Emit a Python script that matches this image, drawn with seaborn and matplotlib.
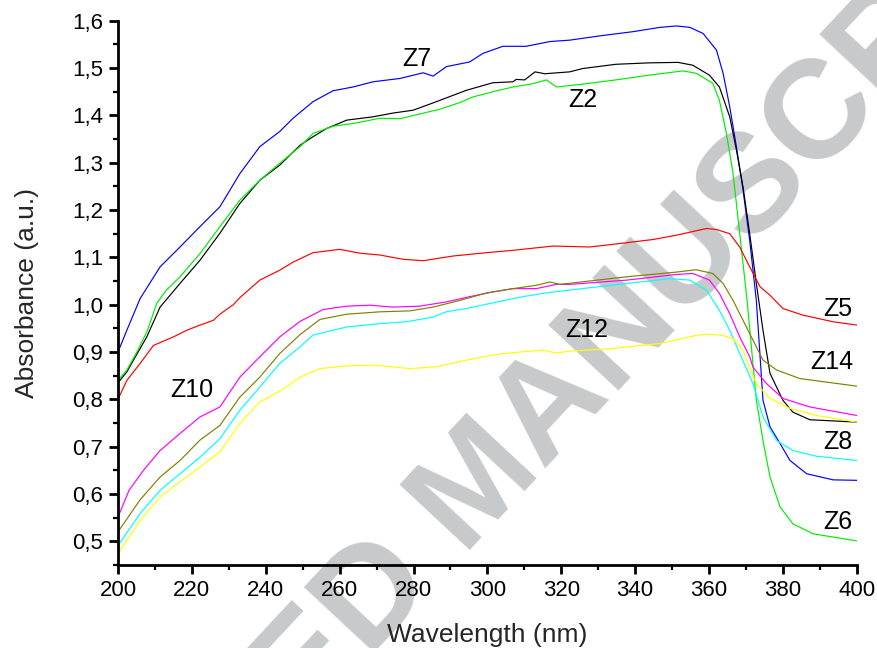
import numpy as np
import pandas as pd
import seaborn as sns
import matplotlib
matplotlib.use("Agg")
import matplotlib.pyplot as plt
from matplotlib.ticker import MultipleLocator, FuncFormatter

# ---- data ----
z7_x = [200, 202.4, 206, 211.4, 216.8, 222.2, 227.6, 233, 238.4, 243.8, 247.4, 252.8, 258.2, 263.6, 269,
        276.3, 282.6, 285.3, 288.9, 295.2, 298.8, 304.2, 310.5, 316.9, 322.3, 330.4, 339.5, 346.7, 351.2,
        354.8, 358.4, 362, 363.8, 365.6, 367.4, 369.2, 371, 372.8, 374.6, 376.5, 379.2, 381.9, 386.4, 393.6, 400]
z7_y = [0.900, 0.946, 1.013, 1.080, 1.122, 1.165, 1.207, 1.277, 1.334, 1.366, 1.394, 1.429, 1.452, 1.460, 1.471,
        1.478, 1.490, 1.483, 1.503, 1.513, 1.531, 1.546, 1.546, 1.556, 1.559, 1.568, 1.577, 1.586, 1.589,
        1.586, 1.573, 1.538, 1.489, 1.418, 1.334, 1.242, 1.136, 1.009, 0.798, 0.742, 0.707, 0.671, 0.643, 0.630, 0.629]

z2_x = [200, 202.4, 204.2, 207.8, 211.4, 216.8, 222.2, 227.6, 233, 238.4, 243.8, 249.3, 252.8, 256.4, 261.9,
        269, 274.5, 279.9, 286.2, 294.3, 301.5, 306.9, 307.8, 310.1, 312.9, 315.5, 322.3, 325.8, 334.8, 343.8,
        351.6, 355.6, 360.1, 362.8, 365.6, 367.4, 369.2, 371, 372.8, 374.6, 376.5, 380, 382.7, 387.3, 400]
z2_y = [0.835, 0.858, 0.883, 0.932, 0.995, 1.045, 1.094, 1.151, 1.214, 1.263, 1.295, 1.337, 1.355, 1.372, 1.390,
        1.397, 1.405, 1.411, 1.429, 1.453, 1.469, 1.471, 1.476, 1.475, 1.492, 1.488, 1.492, 1.499, 1.508, 1.511,
        1.512, 1.506, 1.485, 1.460, 1.397, 1.327, 1.249, 1.150, 1.045, 0.946, 0.855, 0.798, 0.773, 0.757, 0.752]

z6_x = [200, 202.4, 205.4, 208, 210.5, 213, 216.8, 222.2, 227.6, 233, 238.4, 243.8, 249.3, 252.8, 258.2,
        264.5, 270.9, 276.3, 281.7, 287.1, 292.5, 296.1, 301.5, 306.9, 312.3, 316, 318.7, 325.8, 334.8, 343.8,
        352.9, 356.5, 361, 362.8, 364.7, 366.5, 368.3, 370.3, 372.8, 374.6, 376.5, 379.2, 382.7, 388.2, 400]
z6_y = [0.840, 0.862, 0.904, 0.946, 1.003, 1.030, 1.059, 1.108, 1.165, 1.221, 1.263, 1.299, 1.334, 1.362, 1.377,
        1.384, 1.394, 1.393, 1.403, 1.413, 1.427, 1.439, 1.450, 1.460, 1.467, 1.475, 1.460, 1.466, 1.475, 1.485,
        1.494, 1.489, 1.468, 1.432, 1.362, 1.277, 1.150, 1.009, 0.798, 0.713, 0.636, 0.573, 0.537, 0.516, 0.501]

z5_x = [200, 202.4, 206, 209.6, 215, 218.6, 222.2, 225.8, 227.6, 231.2, 233, 238.4, 243.8, 247.4, 252.8,
        260, 265.4, 270.9, 277.2, 282.6, 290.8, 299.8, 307, 317.8, 327.7, 337.7, 345, 351.2, 359.3, 362,
        365.6, 368.3, 371, 373.8, 376.5, 380, 385.4, 393.6, 400]
z5_y = [0.800, 0.840, 0.876, 0.914, 0.932, 0.946, 0.957, 0.967, 0.980, 1.000, 1.015, 1.052, 1.073, 1.090, 1.110,
        1.117, 1.109, 1.105, 1.096, 1.093, 1.103, 1.110, 1.115, 1.124, 1.122, 1.131, 1.138, 1.147, 1.161, 1.159,
        1.150, 1.122, 1.080, 1.038, 1.020, 0.992, 0.978, 0.964, 0.957]

z10_x = [200, 203, 206.9, 211.4, 216.8, 222.2, 227.6, 233, 238.4, 243.8, 249.3, 255.6, 261.9, 268.1, 274.5,
         281.7, 288.9, 295.2, 301.5, 306.9, 313.2, 318.7, 322.3, 337.7, 351.2, 355.6, 360.1, 362.8, 365.6,
         368.3, 371, 371.9, 375.6, 380, 387.3, 400]
z10_y = [0.551, 0.608, 0.650, 0.692, 0.728, 0.763, 0.784, 0.847, 0.890, 0.932, 0.965, 0.990, 0.997, 0.999, 0.995,
         0.997, 1.006, 1.017, 1.027, 1.034, 1.034, 1.043, 1.043, 1.052, 1.064, 1.066, 1.052, 1.024, 0.981,
         0.932, 0.890, 0.868, 0.833, 0.802, 0.784, 0.766]

z14_x = [200, 206, 211.4, 216.8, 222.2, 227.6, 233, 238.4, 243.8, 249.3, 254.7, 261.9, 270.9, 279, 285.3,
         292.5, 299.8, 306.9, 313.2, 316.9, 319.6, 337.7, 351.2, 356.5, 361, 363.8, 366.5, 369.2, 371.9,
         374.6, 378.3, 384.6, 400]
z14_y = [0.520, 0.588, 0.636, 0.671, 0.714, 0.745, 0.805, 0.847, 0.897, 0.937, 0.969, 0.980, 0.985, 0.987, 0.995,
         1.009, 1.025, 1.034, 1.041, 1.048, 1.043, 1.059, 1.069, 1.074, 1.066, 1.045, 1.009, 0.967, 0.925,
         0.883, 0.862, 0.844, 0.828]

z8_x = [200, 206, 211.4, 216.8, 222.2, 227.6, 233, 238.4, 243.8, 249.3, 252.8, 261.9, 270.9, 278.1, 285.3,
        288.9, 294.3, 301.5, 309.6, 315.9, 322.3, 337.7, 349.4, 354.8, 359.3, 362.8, 365.6, 368.3, 371.9,
        374.6, 378.3, 382.7, 389, 400]
z8_y = [0.491, 0.559, 0.608, 0.643, 0.678, 0.717, 0.777, 0.826, 0.876, 0.911, 0.936, 0.953, 0.960, 0.964, 0.974,
        0.985, 0.992, 1.004, 1.017, 1.025, 1.031, 1.045, 1.055, 1.052, 1.031, 0.988, 0.946, 0.897, 0.833,
        0.763, 0.713, 0.692, 0.680, 0.671]

z12_x = [200, 206, 211.4, 216.8, 222.2, 227.6, 233, 238.4, 243.8, 249.3, 254.7, 261.9, 270, 279, 286.2,
         294.3, 302.4, 308.7, 314.9, 318.6, 322.3, 333.2, 346.7, 352.9, 356.5, 359.3, 363.8, 366.5, 369.2,
         370.5, 372.8, 376.5, 381.9, 389, 400]
z12_y = [0.474, 0.544, 0.594, 0.626, 0.657, 0.689, 0.749, 0.795, 0.817, 0.847, 0.865, 0.871, 0.872, 0.865, 0.869,
         0.883, 0.895, 0.900, 0.904, 0.898, 0.902, 0.907, 0.918, 0.929, 0.935, 0.938, 0.935, 0.928, 0.904,
         0.876, 0.833, 0.802, 0.781, 0.766, 0.752]

series_names = ["Z7", "Z2", "Z6", "Z5", "Z10", "Z14", "Z8", "Z12"]
series_x = [z7_x, z2_x, z6_x, z5_x, z10_x, z14_x, z8_x, z12_x]
series_y = [z7_y, z2_y, z6_y, z5_y, z10_y, z14_y, z8_y, z12_y]
series_colors = ["#0000ff", "#000000", "#00ee00", "#ff0000", "#ff00ff", "#808000", "#00ffff", "#ffff00"]

# label positions (wavelength, absorbance)
label_text = ["Z7", "Z2", "Z5", "Z14", "Z8", "Z6", "Z10", "Z12"]
label_x = [281, 325.8, 394.9, 393.3, 394.9, 394.9, 220, 327]
label_y = [1.52, 1.432, 0.992, 0.878, 0.709, 0.540, 0.820, 0.946]

frames = []
for n, xs, ys in zip(series_names, series_x, series_y):
    frames.append(pd.DataFrame({"wl": xs, "abs": ys, "sample": n}))
df = pd.concat(frames, ignore_index=True)

sns.set_theme(style="ticks")
plt.rcParams["font.family"] = ["Liberation Sans", "DejaVu Sans"]

fig = plt.figure(figsize=(8.77, 6.48), dpi=100)
ax = fig.add_axes([0.1345, 0.128, 0.977 - 0.1345, 0.968 - 0.128])
ax.set_zorder(1)
ax.patch.set_alpha(0)

# watermark
fig.text(0.5775, 0.2114, "ACCEPTED MANUSCRIPT", rotation=47, rotation_mode="anchor",
         ha="center", va="baseline", fontsize=101, fontweight="bold", color="#c8c9ca", zorder=0)

sns.lineplot(data=df, x="wl", y="abs", hue="sample", palette=dict(zip(series_names, series_colors)),
             hue_order=series_names, estimator=None, sort=False, legend=False, linewidth=0.85, ax=ax)

for t, x, y in zip(label_text, label_x, label_y):
    ax.text(x, y, t, fontsize=18, ha="center", va="center", color="black")

ax.set_xlim(200, 400)
ax.set_ylim(0.45, 1.6)
ax.xaxis.set_major_locator(MultipleLocator(20))
ax.xaxis.set_minor_locator(MultipleLocator(10))
ax.yaxis.set_major_locator(MultipleLocator(0.1))
ax.yaxis.set_minor_locator(MultipleLocator(0.05))
ax.yaxis.set_major_formatter(FuncFormatter(lambda v, p: f"{v:.1f}".replace(".", ",")))
ax.set_yticks([0.5, 0.6, 0.7, 0.8, 0.9, 1.0, 1.1, 1.2, 1.3, 1.4, 1.5, 1.6])

for s in ["top", "right"]:
    ax.spines[s].set_visible(False)
for s in ["left", "bottom"]:
    ax.spines[s].set_linewidth(2.0)
    ax.spines[s].set_color("black")

ax.tick_params(which="major", direction="out", length=6.5, width=2.0, labelsize=16, colors="black", pad=4)
ax.tick_params(which="minor", direction="out", length=3.5, width=1.6, colors="black")

ax.set_xlabel("Wavelength (nm)", fontsize=19, labelpad=16)
ax.set_ylabel("Absorbance (a.u.)", fontsize=19, labelpad=24)

fig.savefig("out.png", dpi=100)
